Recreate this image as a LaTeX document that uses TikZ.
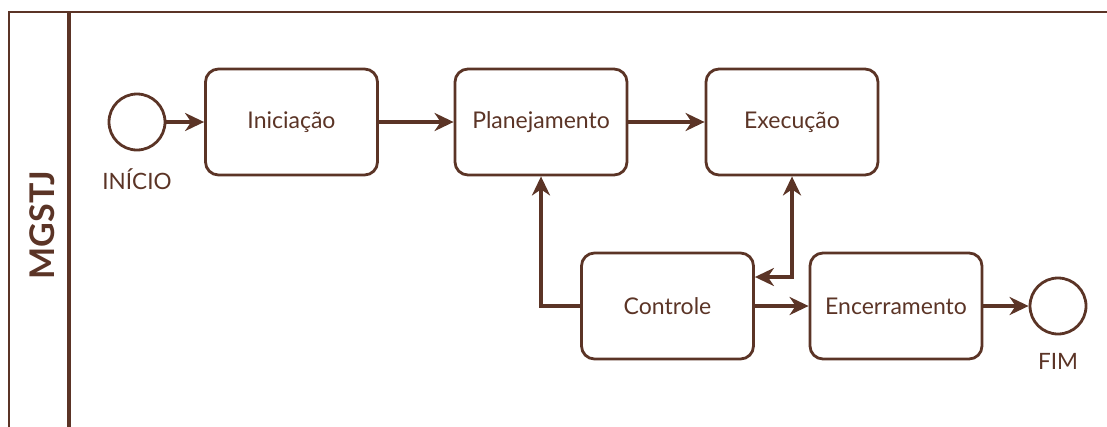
\documentclass[tikz,border=0pt]{standalone}
\usepackage{fontspec}
\setmainfont{Lato}
\usetikzlibrary{arrows.meta}
\definecolor{brn}{HTML}{5B3426}
\begin{document}
\begin{tikzpicture}[x=1pt,y=-1pt,
  every node/.style={text=brn},
  task/.style={draw=brn,line width=2.8pt,rounded corners=13pt,minimum width=172pt,minimum height=106pt,font=\fontsize{23}{27}\selectfont},
  event/.style={draw=brn,line width=2.8pt,circle,minimum size=56pt,inner sep=0pt},
  evlabel/.style={font=\fontsize{22.5}{26}\selectfont},
  flow/.style={draw=brn,line width=3.4pt,-{Stealth[length=19pt,width=18pt,inset=6pt]}},
  lane/.style={draw=brn,line width=2.8pt}]
\useasboundingbox (0,0) rectangle (1107,426);
% pool and lane header
\draw[lane] (1107,12) -- (9,12) -- (9,430);
\draw[lane,line width=3.4pt] (69,12) -- (69,430);
\node[rotate=90,font=\fontsize{34}{36}\selectfont\bfseries] (pool) at (42,225) {MGSTJ};
% events and tasks
\node[event] (start) at (137,122) {};
\node[evlabel,anchor=north] (startlbl) at (137,165) {INÍCIO};
\node[task] (ini) at (291.5,122) {Iniciação};
\node[task] (plan) at (541,122) {Planejamento};
\node[task] (exec) at (792,122) {Execução};
\node[task] (ctrl) at (667.5,306) {Controle};
\node[task] (enc) at (896,306) {Encerramento};
\node[event] (fim) at (1058,306) {};
\node[evlabel,anchor=north] (fimlbl) at (1058,350) {FIM};
% sequence flows
\draw[flow] (start) -- (ini);
\draw[flow] (ini) -- (plan);
\draw[flow] (plan) -- (exec);
\draw[flow] (ctrl.west) -| (plan.south);
\draw[flow,{Stealth[length=19pt,width=18pt,inset=6pt]}-{Stealth[length=19pt,width=18pt,inset=6pt]}] (ctrl.east |- 0,277) -| (exec.south);
\draw[flow] (ctrl) -- (enc);
\draw[flow] (enc) -- (fim);
\end{tikzpicture}
\end{document}
